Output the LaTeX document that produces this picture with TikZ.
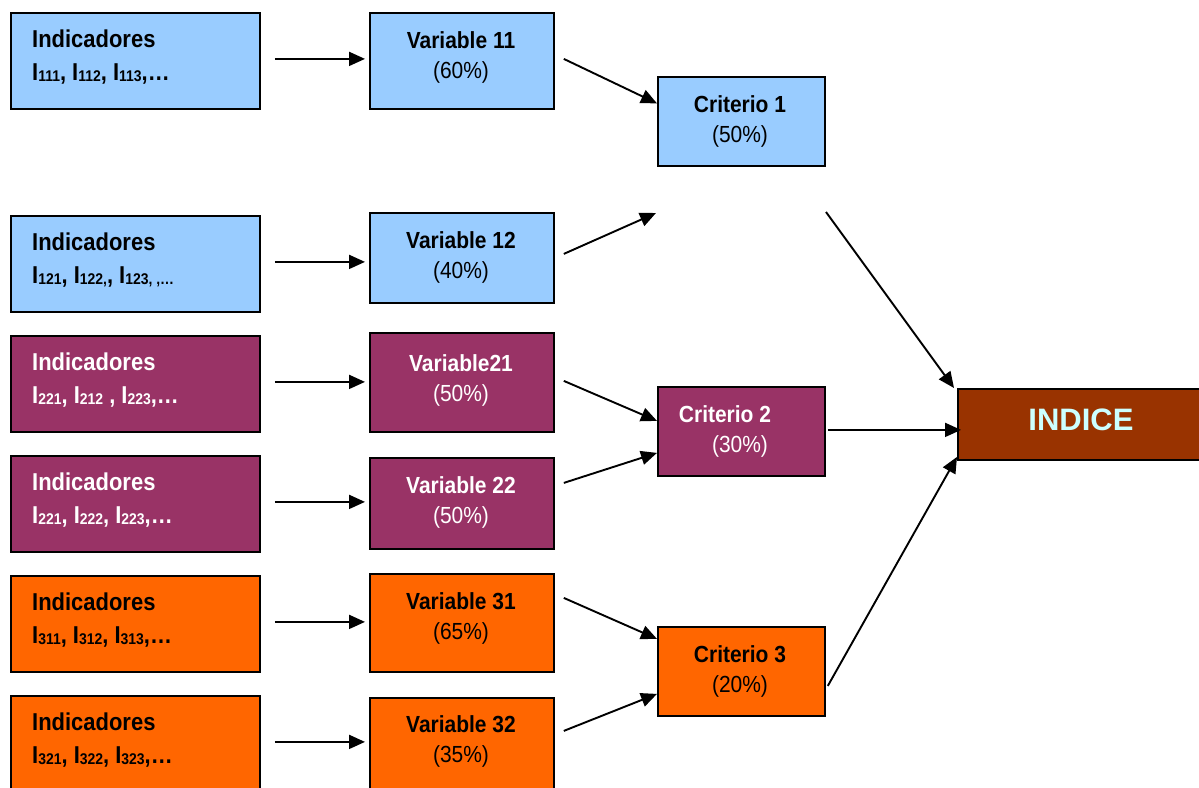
\documentclass[tikz,border=0pt]{standalone}
\usepackage{fontspec}
\setmainfont{Liberation Sans}[FakeStretch=0.9]
\newfontfamily\indfont{Liberation Sans}
\usetikzlibrary{arrows.meta,calc}
\definecolor{cblue}{HTML}{99CCFF}
\definecolor{cpurple}{HTML}{993366}
\definecolor{corange}{HTML}{FF6600}
\definecolor{cbrown}{HTML}{993300}
\definecolor{cindtext}{HTML}{CCFFFF}
\newcommand{\ix}[1]{I{\fontsize{15.5}{15.5}\selectfont\raisebox{-1.5pt}{#1}}}
\begin{document}
\begin{tikzpicture}[x=1pt,y=-1pt,
  box/.style={draw=black,line width=1.8pt,anchor=north west,inner sep=0pt},
  ibox/.style={box,minimum width=249pt,minimum height=96pt},
  vbox/.style={box,minimum width=184pt},
  cbox/.style={box,minimum width=167pt,minimum height=89pt},
  ilbl/.style={anchor=base west,align=left,inner sep=0pt,font=\fontsize{24.4}{33}\selectfont\bfseries},
  vlbl/.style={anchor=base,align=center,inner sep=0pt,font=\fontsize{23.3}{30}\selectfont},
  arr/.style={-{Triangle[length=16pt,width=14pt]},line width=1.9pt,black}]
\clip (0,0) rectangle (1199,787);
% indicator boxes
\node[ibox,fill=cblue] (i1) at (10,12) {};
\node[ibox,fill=cblue] (i2) at (10,215) {};
\node[ibox,fill=cpurple] (i3) at (10,335) {};
\node[ibox,fill=cpurple] (i4) at (10,455) {};
\node[ibox,fill=corange] (i5) at (10,575) {};
\node[ibox,fill=corange] (i6) at (10,695) {};
\node[ilbl] (i1t) at (32,80) {Indicadores\\\ix{111}, \ix{112}, \ix{113},…};
\node[ilbl] (i2t) at (32,283) {Indicadores\\\ix{121}, \ix{122,}, \ix{123, ,…}};
\node[ilbl,text=white] (i3t) at (32,403) {Indicadores\\\ix{221}, \ix{212} , \ix{223},…};
\node[ilbl,text=white] (i4t) at (32,523) {Indicadores\\\ix{221}, \ix{222}, \ix{223},…};
\node[ilbl] (i5t) at (32,643) {Indicadores\\\ix{311}, \ix{312}, \ix{313},…};
\node[ilbl] (i6t) at (32,763) {Indicadores\\\ix{321}, \ix{322}, \ix{323},…};
% variable boxes
\node[vbox,fill=cblue,minimum height=96pt] (v1) at (369,12) {};
\node[vbox,fill=cblue,minimum height=90pt] (v2) at (369,212) {};
\node[vbox,fill=cpurple,minimum height=99pt] (v3) at (369,332) {};
\node[vbox,fill=cpurple,minimum height=91pt] (v4) at (369,457) {};
\node[vbox,fill=corange,minimum height=98pt] (v5) at (369,573) {};
\node[vbox,fill=corange,minimum height=96pt] (v6) at (369,697) {};
\node[vlbl] (v1t) at (461,78) {\textbf{Variable 11}\\(60\%)};
\node[vlbl] (v2t) at (461,278) {\textbf{Variable 12}\\(40\%)};
\node[vlbl,text=white] (v3t) at (461,401) {\textbf{Variable21}\\(50\%)};
\node[vlbl,text=white] (v4t) at (461,523) {\textbf{Variable 22}\\(50\%)};
\node[vlbl] (v5t) at (461,639) {\textbf{Variable 31}\\(65\%)};
\node[vlbl] (v6t) at (461,762) {\textbf{Variable 32}\\(35\%)};
% criteria boxes
\node[cbox,fill=cblue] (c1) at (657,76) {};
\node[cbox,fill=cpurple] (c2) at (657,386) {};
\node[cbox,fill=corange] (c3) at (657,626) {};
\node[vlbl] (c1t) at (740,142) {\textbf{Criterio 1}\\(50\%)};
\node[vlbl,text=white] (c2t) at (740,452) {\textbf{Criterio 2}\hspace*{30pt}\\(30\%)};
\node[vlbl] (c3t) at (740,692) {\textbf{Criterio 3}\\(20\%)};
% index box
\node[box,fill=cbrown,minimum width=248pt,minimum height=71pt] (ind) at (957,388) {};
\node[anchor=base,inner sep=0pt,text=cindtext,font=\indfont\fontsize{31}{31}\selectfont\bfseries] (indt) at (1081,430) {INDICE};
% free ends
\coordinate (c1in) at (656,213);
\coordinate (c1out) at (826,212);
% indicator -> variable arrows
\foreach \k in {1,...,6}{
  \coordinate (a\k) at ([shift={(14pt,2pt)}]i\k.east);
  \draw[arr,shorten >=4pt] (a\k) -- (a\k -| v\k.west);
}
% variable -> criterion arrows
\draw[arr] ([shift={(9pt,2pt)}]v1.east) -- ([shift={(0pt,18pt)}]c1.west);
\draw[arr] ([shift={(9pt,4pt)}]v2.east) -- (c1in);
\draw[arr] ([shift={(9pt,1.5pt)}]v3.east) -- ([shift={(0pt,10.5pt)}]c2.west);
\draw[arr] ([shift={(9pt,20.5pt)}]v4.east) -- ([shift={(0pt,-21.5pt)}]c2.west);
\draw[arr] ([shift={(9pt,25pt)}]v5.east) -- ([shift={(0pt,32.5pt)}]c3.west);
\draw[arr] ([shift={(9pt,15pt)}]v6.east) -- ([shift={(0pt,-22.5pt)}]c3.west);
% criterion -> index arrows
\draw[arr] (c1out) -- ([shift={(-3pt,0pt)}]ind.north west);
\draw[arr] ([shift={(2pt,1.5pt)}]c2.east) -- ([shift={(4pt,-5.5pt)}]ind.west);
\draw[arr] ([shift={(2pt,-14.5pt)}]c3.east) -- ([shift={(0pt,-32.5pt)}]ind.west);
\end{tikzpicture}
\end{document}
